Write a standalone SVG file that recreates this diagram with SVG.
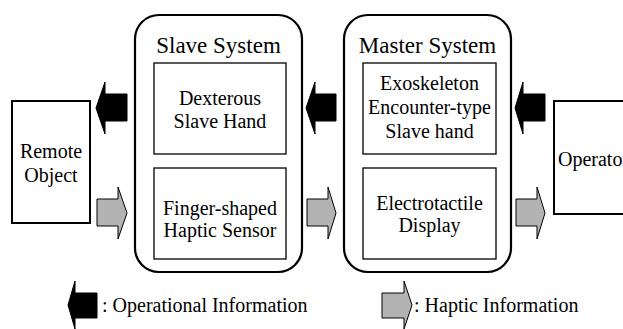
<svg xmlns="http://www.w3.org/2000/svg" width="623" height="329" viewBox="0 0 623 329" font-family="'Liberation Serif', 'Times New Roman', Times, 'DejaVu Serif', serif">
<style>
.sys{fill:#fff;stroke:#000;stroke-width:2.2}
.box{fill:#fff;stroke:#000;stroke-width:1.3}
.ext{fill:#fff;stroke:#000;stroke-width:2}
.op{fill:#000;stroke:#000;stroke-width:1}
.hp{fill:#b3b3b3;stroke:#000;stroke-width:1}
text{font-family:'Liberation Serif','Times New Roman',Times,'DejaVu Serif',serif;font-size:20px;fill:#000}
.c{text-anchor:middle}
.title{font-size:23px}
</style>
<rect width="623" height="329" fill="#fff"/>
<g id="remote-object">
<rect class="ext" x="12" y="101" width="78" height="122"/>
<text class="c" x="51" y="158">Remote</text>
<text class="c" x="51" y="182">Object</text>
</g>
<g id="slave-system">
<rect class="sys" x="135" y="15" width="167" height="257" rx="24" ry="24"/>
<text class="c title" x="218.5" y="53">Slave System</text>
</g>
<g id="dexterous-slave-hand">
<rect class="box" x="154" y="63" width="132" height="91"/>
<text class="c" x="220" y="105">Dexterous</text>
<text class="c" x="220" y="128">Slave Hand</text>
</g>
<g id="finger-shaped-haptic-sensor">
<rect class="box" x="154" y="168" width="132" height="91"/>
<text class="c" x="220" y="215">Finger-shaped</text>
<text class="c" x="220" y="237">Haptic Sensor</text>
</g>
<g id="master-system">
<rect class="sys" x="344" y="15" width="167" height="257" rx="24" ry="24"/>
<text class="c title" x="427.5" y="53">Master System</text>
</g>
<g id="exoskeleton">
<rect class="box" x="363" y="63" width="133" height="91"/>
<text class="c" x="429.5" y="90">Exoskeleton</text>
<text class="c" x="429.5" y="114">Encounter-type</text>
<text class="c" x="429.5" y="138">Slave hand</text>
</g>
<g id="electrotactile-display">
<rect class="box" x="363" y="168" width="133" height="91"/>
<text class="c" x="429.5" y="210">Electrotactile</text>
<text class="c" x="429.5" y="232">Display</text>
</g>
<g id="operator">
<rect class="ext" x="554" y="101" width="90" height="113"/>
<text x="558" y="166">Operator</text>
</g>
<g id="connectors">
<polygon class="op" points="96,108 105,82 105,94 127,94 127,121 105,121 105,134"/>
<polygon class="op" points="306,108 315,82 315,94 336,94 336,121 315,121 315,134"/>
<polygon class="op" points="515,108 523,82 523,94 545,94 545,121 523,121 523,134"/>
<polygon class="hp" points="97,199 118,199 118,187 127,213 118,239 118,226 97,226"/>
<polygon class="hp" points="307,199 328,199 328,187 336,213 328,239 328,226 307,226"/>
<polygon class="hp" points="516,199 537,199 537,187 545,213 537,239 537,226 516,226"/>
</g>
<g id="legend">
<polygon class="op" points="68,305 75,281 75,293 97,293 97,318 75,318 75,329"/>
<text x="102" y="312">: Operational Information</text>
<polygon class="hp" points="382,293 404,293 404,281 412,305 404,329 404,318 382,318"/>
<text x="414" y="312">: Haptic Information</text>
</g>
</svg>
